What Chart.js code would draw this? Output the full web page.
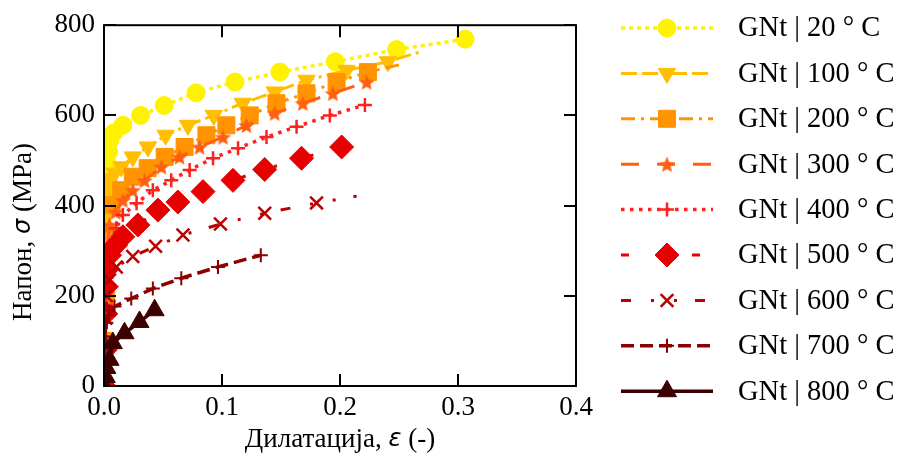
<!DOCTYPE html>
<html>
<head>
<meta charset="utf-8">
<script src="https://cdn.jsdelivr.net/npm/chart.js@4.4.1/dist/chart.umd.min.js"></script>
<style>
    html, body { margin: 0; padding: 0; background: #ffffff; }
    #wrap { width: 901px; height: 461px; }
</style>
</head>
<body>
<div id="wrap"><canvas id="gnt-stress-strain" width="901" height="461"></canvas></div>
<script>
// temperatures of the test series
const temps = [20, 100, 200, 300, 400, 500, 600, 700, 800];

// strain (-) / stress (MPa)
const strain20 = [0, 0.001, 0.0015, 0.002, 0.0025, 0.003, 0.0035, 0.004, 0.005, 0.008, 0.016, 0.031, 0.051, 0.078, 0.111, 0.149, 0.196, 0.248, 0.306];
const stress20 = [0, 100, 200, 300, 400, 450, 490, 520, 545, 561, 578, 600, 622, 650, 674, 696, 719, 746, 769];

const strain100 = [0, 0.001, 0.0015, 0.002, 0.0025, 0.003, 0.004, 0.006, 0.009, 0.0146, 0.0244, 0.0372, 0.0522, 0.0711, 0.093, 0.1176, 0.1447, 0.1716, 0.2056, 0.2407, 0.268];
const stress100 = [0, 100, 200, 300, 380, 420, 445, 460, 472, 486, 508, 530, 556, 578, 600, 627, 652, 678, 700, 719, 741];

const strain200 = [0, 0.001, 0.0015, 0.002, 0.003, 0.0064, 0.0146, 0.0244, 0.037, 0.0514, 0.0683, 0.0868, 0.1037, 0.1235, 0.1462, 0.1716, 0.1971, 0.2237, 0.25];
const stress200 = [0, 100, 200, 280, 340, 401, 434, 464, 483, 508, 530, 556, 578, 600, 627, 649, 674, 696, 712];

const strain300 = [0, 0.001, 0.0015, 0.002, 0.003, 0.0047, 0.0098, 0.016, 0.0244, 0.0344, 0.0486, 0.064, 0.081, 0.1008, 0.1207, 0.1447, 0.1685, 0.194, 0.2226];
const stress300 = [0, 100, 200, 260, 310, 357, 386, 412, 434, 456, 486, 508, 530, 552, 578, 605, 627, 649, 674];

const strain400 = [0, 0.001, 0.0015, 0.002, 0.003, 0.0047, 0.0104, 0.016, 0.0276, 0.0414, 0.057, 0.0726, 0.0924, 0.1136, 0.1377, 0.1632, 0.1914, 0.2211];
const stress400 = [0, 100, 180, 240, 280, 312, 350, 379, 405, 434, 456, 479, 505, 527, 552, 575, 600, 623];

const strain500 = [0, 0.001, 0.0015, 0.002, 0.003, 0.0047, 0.0098, 0.016, 0.0287, 0.0457, 0.0626, 0.0839, 0.1093, 0.1362, 0.1674, 0.2014];
const stress500 = [0, 80, 160, 220, 260, 290, 312, 331, 357, 390, 408, 431, 456, 480, 505, 530];

const strain600 = [0, 0.001, 0.0015, 0.002, 0.0047, 0.0104, 0.0244, 0.0437, 0.0669, 0.0987, 0.1362, 0.1801, 0.2141];
const stress600 = [0, 80, 150, 200, 235, 264, 287, 310, 335, 359, 383, 406, 421];

const strain700 = [0, 0.001, 0.0015, 0.002, 0.004, 0.0089, 0.0231, 0.0414, 0.0655, 0.0966, 0.1329];
const stress700 = [0, 60, 110, 140, 157, 176, 194, 216, 239, 264, 290];

const strain800 = [0, 0.0015, 0.002, 0.0047, 0.0075, 0.0174, 0.0301, 0.0429];
const stress800 = [0, 20, 40, 58, 95, 117, 142, 168];

// axis ticks
const xTicks = [0, 0.1, 0.2, 0.3, 0.4];
const yTicks = [0, 200, 400, 600, 800];

const strains = [strain20, strain100, strain200, strain300, strain400, strain500, strain600, strain700, strain800];
const stresses = [stress20, stress100, stress200, stress300, stress400, stress500, stress600, stress700, stress800];

// last point is only the end of the line (no marker) for these
const openEnd = [false, true, true, false, false, false, true, false, false];

// styles
const colors = ['#fff200', '#ffbf00', '#ff9400', '#ff6010', '#ff2020', '#e60000', '#bb0000', '#8c0000', '#3c0000'];
const dashes = [[4, 4], [16, 5, 16, 5, 3, 5], [14, 6, 3, 6], [18, 18], [3.5, 5.5], [8, 30, 3, 30], [10, 20, 3, 20, 3, 18], [13, 6], []];
const lineWidths = [3.5, 3, 3, 3, 3.5, 3, 3, 3.5, 3.5];
const radii = [9, 10, 12, 9, 7, 12, 9, 7, 11];
const borderWidths = [1, 1, 1, 1, 2.5, 1, 2.5, 2, 1];
const rotations = [0, 180, 0, 0, 0, 0, 0, 0, 0];

function makeStar(color, r) {
    const c = document.createElement('canvas');
    c.width = c.height = Math.ceil(r * 2 + 2);
    const g = c.getContext('2d');
    g.translate(c.width / 2, c.height / 2 + r * 0.1);
    g.beginPath();
    for (let k = 0; k < 10; k++) {
        const rr = k % 2 ? r * 0.45 : r;
        const a = -Math.PI / 2 + k * Math.PI / 5;
        g.lineTo(rr * Math.cos(a), rr * Math.sin(a));
    }
    g.closePath();
    g.fillStyle = color;
    g.fill();
    return c;
}

const pointStyles = ['circle', 'triangle', 'rect', makeStar(colors[3], 8.5), 'cross', 'rectRot', 'crossRot', 'cross', 'triangle'];

const FONT = '"Liberation Serif", "Times New Roman", serif';
const SYM_FONT = '"DejaVu Sans", sans-serif';

const datasets = temps.map((t, i) => ({
    label: 'GNt | ' + t + ' ° C',
    data: strains[i].map((x, k) => ({ x: x, y: stresses[i][k] })),
    showLine: true,
    borderColor: colors[i],
    backgroundColor: colors[i],
    borderWidth: lineWidths[i],
    borderDash: dashes[i],
    pointStyle: pointStyles[i],
    pointRotation: rotations[i],
    pointBackgroundColor: colors[i],
    pointBorderColor: colors[i],
    pointBorderWidth: borderWidths[i],
    pointRadius: (c) => (openEnd[i] && c.dataIndex === strains[i].length - 1) ? 0 : radii[i],
    tension: 0,
    clip: 0,
    order: temps.length - i
}));

// frame, inward ticks, axis titles and the line+marker legend
const decorations = {
    id: 'decorations',
    afterDraw(chart) {
        const ctx = chart.ctx;
        const a = chart.chartArea;
        const xs = chart.scales.x, ys = chart.scales.y;
        ctx.save();
        ctx.strokeStyle = '#000';
        ctx.lineWidth = 2;
        ctx.setLineDash([]);
        ctx.strokeRect(a.left, a.top, a.right - a.left, a.bottom - a.top);
        ctx.beginPath();
        xTicks.forEach(v => {
            const px = Math.round(xs.getPixelForValue(v));
            ctx.moveTo(px, a.bottom); ctx.lineTo(px, a.bottom - 12);
            ctx.moveTo(px, a.top); ctx.lineTo(px, a.top + 12);
        });
        yTicks.forEach(v => {
            const py = Math.round(ys.getPixelForValue(v));
            ctx.moveTo(a.left, py); ctx.lineTo(a.left + 12, py);
            ctx.moveTo(a.right, py); ctx.lineTo(a.right - 12, py);
        });
        ctx.stroke();

        // axis titles with italic symbols
        const drawParts = (parts, cx, cy) => {
            ctx.textBaseline = 'middle';
            ctx.textAlign = 'left';
            let total = 0;
            parts.forEach(p => { ctx.font = p[1]; total += ctx.measureText(p[0]).width; });
            let x = cx - total / 2;
            parts.forEach(p => {
                ctx.font = p[1];
                ctx.fillText(p[0], x, cy);
                x += ctx.measureText(p[0]).width;
            });
        };
        const plain = '27px ' + FONT;
        const sym = 'italic 24px ' + SYM_FONT;
        ctx.fillStyle = '#000';
        drawParts([['Дилатација, ', plain], ['ε', sym], [' (-)', plain]], (a.left + a.right) / 2, 440);
        ctx.save();
        ctx.translate(24, 232);
        ctx.rotate(-Math.PI / 2);
        drawParts([['Напон, ', plain], ['σ', sym], [' (MPa)', plain]], 0, 0);
        ctx.restore();

        // legend
        chart.data.datasets.forEach((ds, i) => {
            const y = 28 + i * 45.4;
            ctx.strokeStyle = ds.borderColor;
            ctx.lineWidth = ds.borderWidth;
            ctx.setLineDash(ds.borderDash);
            ctx.beginPath();
            ctx.moveTo(621, y);
            ctx.lineTo(713, y);
            ctx.stroke();
            ctx.setLineDash([]);
            ctx.fillStyle = ds.pointBackgroundColor;
            ctx.strokeStyle = ds.pointBorderColor;
            ctx.lineWidth = ds.pointBorderWidth;
            Chart.helpers.drawPoint(ctx, {
                pointStyle: ds.pointStyle,
                rotation: ds.pointRotation,
                radius: radii[i],
                borderWidth: ds.pointBorderWidth
            }, 667, y);
            ctx.fillStyle = '#000';
            ctx.font = '28.5px ' + FONT;
            ctx.textAlign = 'left';
            ctx.textBaseline = 'middle';
            ctx.fillText(ds.label, 738, y + 1);
        });
        ctx.restore();
    }
};

new Chart(document.getElementById('gnt-stress-strain').getContext('2d'), {
    type: 'scatter',
    data: { datasets: datasets },
    options: {
        responsive: false,
        animation: false,
        layout: { padding: { top: 25, right: 325, bottom: 0, left: 0 } },
        scales: {
            x: {
                type: 'linear',
                min: xTicks[0],
                max: xTicks[xTicks.length - 1],
                afterFit: (s) => { s.height = 75; },
                afterBuildTicks: (s) => { s.ticks = xTicks.map(v => ({ value: v })); },
                ticks: {
                    color: '#000',
                    padding: 6,
                    font: { family: FONT, size: 27 },
                    callback: (v) => Number(v).toFixed(1)
                },
                grid: { display: false, drawTicks: false },
                border: { display: false }
            },
            y: {
                type: 'linear',
                min: yTicks[0],
                max: yTicks[yTicks.length - 1],
                afterFit: (s) => { s.width = 104; },
                afterBuildTicks: (s) => { s.ticks = yTicks.map(v => ({ value: v })); },
                ticks: {
                    color: '#000',
                    padding: 9,
                    font: { family: FONT, size: 27 }
                },
                grid: { display: false, drawTicks: false },
                border: { display: false }
            }
        },
        plugins: {
            legend: { display: false },
            tooltip: { enabled: false }
        }
    },
    plugins: [decorations]
});
</script>
</body>
</html>
